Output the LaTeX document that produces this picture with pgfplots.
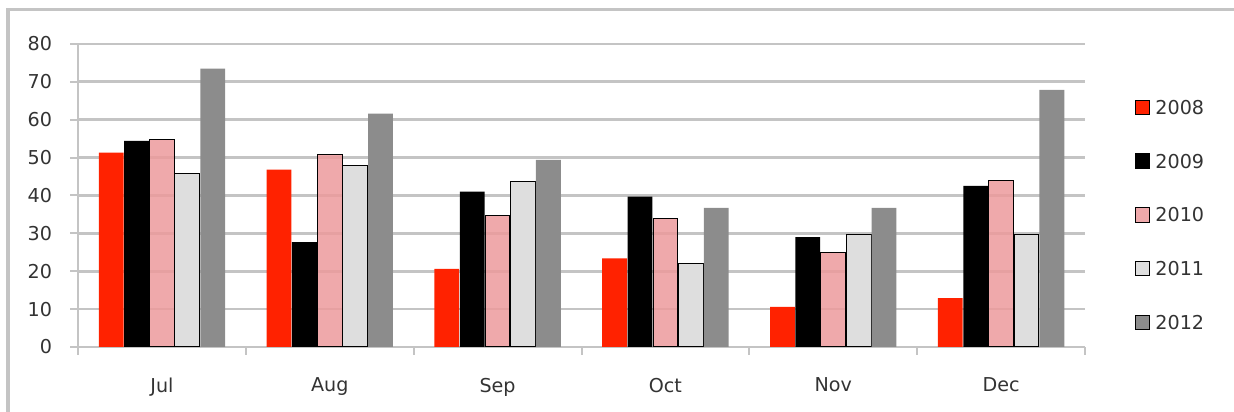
\documentclass[border=0pt]{standalone}
\usepackage{pgfplots}
\pgfplotsset{compat=1.18}
\usepackage{fontspec}
\setmainfont{DejaVu Sans}

\definecolor{c2008}{HTML}{FF2200}
\definecolor{c2009}{HTML}{000000}
\definecolor{c2010}{HTML}{EC9A9C}
\definecolor{c2011}{HTML}{DEDEDE}
\definecolor{c2012}{HTML}{8C8C8C}
\definecolor{gridc}{HTML}{C4C4C4}
\definecolor{txt}{HTML}{333333}

\begin{document}
\begin{tikzpicture}
\begin{axis}[
    scale only axis,
    width=503.5bp, height=151.5bp,
    ybar=0.3bp,
    bar width=12.4bp,
    xmin=-0.5, xmax=5.5,
    ymin=0, ymax=80,
    ytick={0,10,...,80},
    xtick={0,...,5},
    xticklabels={Jul,Aug,Sep,Oct,Nov,Dec},
    minor xtick={-0.5,0.5,...,5.5},
    major x tick style={draw=none},
    tick align=outside,
    major tick length=4bp,
    minor tick length=4bp,
    tick style={gridc, line width=1bp},
    axis x line*=bottom,
    axis y line*=left,
    axis line style={gridc, line width=1bp, -},
    ymajorgrids,
    grid style={gridc, line width=1.4bp},
    font=\fontsize{9.6}{11}\selectfont,
    ticklabel style={text=txt},
    yticklabel style={xshift=-5.5bp},
    xticklabel style={yshift=-8bp},
    /pgf/number format/assume math mode=true,
    legend style={draw=none, fill=none, at={(rel axis cs:1.043,0.436)}, anchor=west,
        font=\fontsize{9.6}{11}\selectfont, text=txt, row sep=17.9bp, column sep=1.5bp,
        nodes={inner sep=1bp, text height=7bp, text depth=0bp}},
    legend cell align=left,
    legend image code/.code={\draw[#1, line width=0.5bp] (0bp,-3.6bp) rectangle (7.4bp,3.6bp);},
]
\addplot[fill=c2008, draw=none] coordinates {(0,51.3) (1,46.8) (2,20.6) (3,23.4) (4,10.6) (5,12.9)};
\addplot[fill=c2009, draw=none] coordinates {(0,54.4) (1,27.7) (2,41.0) (3,39.7) (4,29.0) (5,42.5)};
\addplot[fill=c2010, fill opacity=0.85, draw=black, line width=0.5bp] coordinates {(0,54.7) (1,50.7) (2,34.7) (3,34.0) (4,24.8) (5,43.9)};
\addplot[fill=c2011, draw=black, line width=0.5bp] coordinates {(0,45.7) (1,47.9) (2,43.7) (3,21.9) (4,29.8) (5,29.8)};
\addplot[fill=c2012, draw=none] coordinates {(0,73.5) (1,61.6) (2,49.4) (3,36.7) (4,36.7) (5,67.9)};
\legend{2008,2009,2010,2011,2012}
\coordinate (ll) at (rel axis cs:-0.0775,-0.2145);
\coordinate (ur) at (rel axis cs:1.148,1.145);
\coordinate (fl) at (rel axis cs:-0.0695,-0.2145);
\coordinate (ft) at (rel axis cs:-0.0695,1.1135);
\coordinate (fr) at (rel axis cs:1.148,1.1135);
\end{axis}
\draw[gridc, line width=1.8bp] (fl) -- (ft) -- (fr);
\pgfresetboundingbox
\path[use as bounding box] (ll) rectangle (ur);
\end{tikzpicture}
\end{document}
